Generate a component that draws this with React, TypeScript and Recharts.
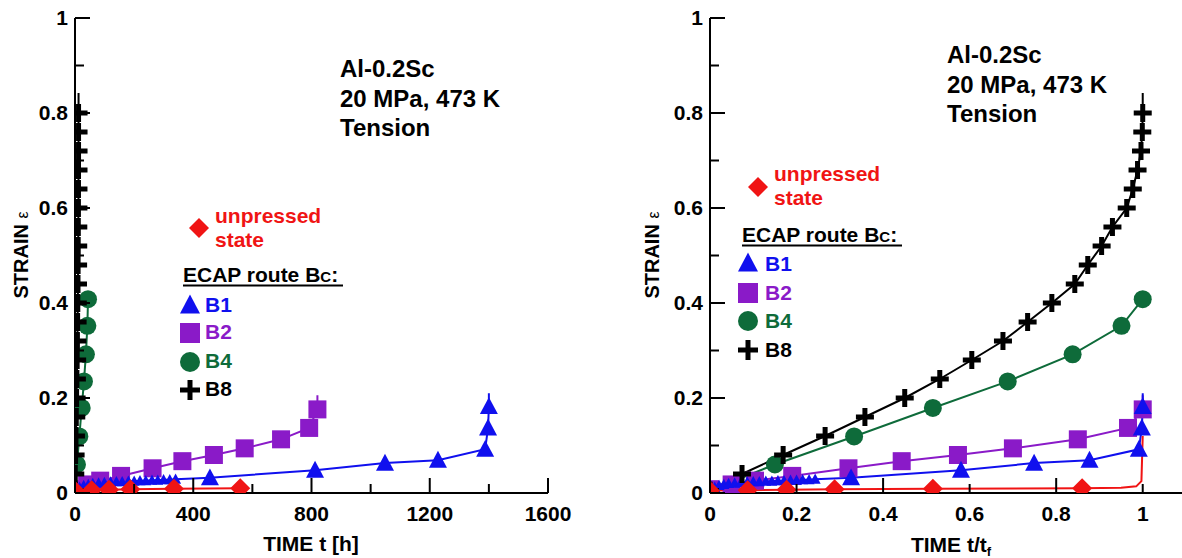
import React from 'react';
import { ComposedChart, Line, XAxis, YAxis } from 'recharts';

const FONT = '"Liberation Sans", Arial, Helvetica, sans-serif';

const C_RED = '#f01414';
const C_BLUE = '#1010ee';
const C_PURPLE = '#8a1ac8';
const C_GREEN = '#0e6b3a';
const C_BLACK = '#000000';

// ---- data: normalized time t/tf and strain, plus time to failure tf [h] ----
const unpressedT = [0, 0.087, 0.177, 0.288, 0.515, 0.86];
const unpressedS = [0.005, 0.006, 0.007, 0.008, 0.009, 0.01];
const unpressedTailT = [0.95, 0.985, 0.997, 1.0];
const unpressedTailS = [0.011, 0.014, 0.025, 0.12];
const unpressedTf = 650;

const b1T = [0, 0.011, 0.021, 0.032, 0.043, 0.057, 0.071, 0.086, 0.1, 0.114, 0.129, 0.143, 0.157, 0.171, 0.186, 0.2, 0.214, 0.229, 0.243, 0.326, 0.58, 0.749, 0.877, 0.991, 0.998, 1.0];
const b1S = [0.005, 0.012, 0.016, 0.018, 0.02, 0.021, 0.022, 0.023, 0.024, 0.024, 0.025, 0.025, 0.026, 0.026, 0.027, 0.027, 0.028, 0.028, 0.029, 0.032, 0.048, 0.063, 0.069, 0.092, 0.137, 0.182];
const b1TailT = [1.0];
const b1TailS = [0.21];
const b1Tf = 1400;

const b2T = [0, 0.05, 0.104, 0.19, 0.32, 0.443, 0.573, 0.7, 0.85, 0.966, 1.0];
const b2S = [0.008, 0.018, 0.026, 0.036, 0.052, 0.067, 0.08, 0.094, 0.113, 0.137, 0.176];
const b2TailT = [1.0];
const b2TailS = [0.206];
const b2Tf = 820;

const b4T = [0, 0.15, 0.333, 0.515, 0.688, 0.838, 0.951, 1.0];
const b4S = [0.005, 0.06, 0.119, 0.179, 0.235, 0.292, 0.352, 0.408];
const b4Tf = 44;

const b8T = [0, 0.074, 0.169, 0.266, 0.358, 0.45, 0.531, 0.605, 0.677, 0.734, 0.79, 0.843, 0.873, 0.905, 0.93, 0.963, 0.977, 0.988, 0.996, 0.999, 1.0];
const b8S = [0.005, 0.04, 0.08, 0.12, 0.16, 0.2, 0.24, 0.28, 0.32, 0.36, 0.4, 0.44, 0.48, 0.52, 0.56, 0.6, 0.64, 0.68, 0.72, 0.76, 0.8];
const b8TailT = [1.0];
const b8TailS = [0.842];
const b8Tf = 12;

// ---- ticks ----
const leftXTicks = [0, 200, 400, 600, 800, 1000, 1200, 1400, 1600];
const leftXMajor = [0, 400, 800, 1200, 1600];
const leftXLabels = [0, 400, 800, 1200, 1600];
const rightXTicks = [0, 0.2, 0.4, 0.6, 0.8, 1.0];
const rightXMajor = [0, 0.4, 0.8];
const rightXLabels = [0, 0.2, 0.4, 0.6, 0.8, 1.0];
const yTicks = [0, 0.1, 0.2, 0.3, 0.4, 0.5, 0.6, 0.7, 0.8, 0.9, 1.0];
const yMajor = [0, 0.2, 0.4, 0.6, 0.8, 1.0];
const yLabels = [0, 0.2, 0.4, 0.6, 0.8, 1.0];

type Pt = { x: number; y: number; m: boolean };
function build(t: number[], s: number[], scale: number, tailT: number[] = [], tailS: number[] = []): Pt[] {
  const pts: Pt[] = t.map((v, i) => ({ x: v * scale, y: s[i], m: true }));
  tailT.forEach((v, i) => pts.push({ x: v * scale, y: tailS[i], m: false }));
  return pts;
}

const has = (arr: number[], v: number) => arr.some((a) => Math.abs(a - v) < 1e-9);
const fmt = (v: number) => (Math.abs(v) < 1e-9 ? '0' : Math.abs(v - 1) < 1e-9 ? '1' : String(Math.round(v * 1000) / 1000));

type Kind = 'tri' | 'sq' | 'circ' | 'dia' | 'plus';
function Marker({ kind, x, y, s, color }: { kind: Kind; x: number; y: number; s: number; color: string }) {
  if (kind === 'tri')
    return <polygon points={`${x},${y - s * 0.52} ${x - s / 2},${y + s * 0.42} ${x + s / 2},${y + s * 0.42}`} fill={color} />;
  if (kind === 'sq') return <rect x={x - s / 2} y={y - s / 2} width={s} height={s} fill={color} />;
  if (kind === 'circ') return <circle cx={x} cy={y} r={s / 2} fill={color} />;
  if (kind === 'dia')
    return <polygon points={`${x},${y - s / 2} ${x + s / 2},${y} ${x},${y + s / 2} ${x - s / 2},${y}`} fill={color} />;
  const th = 5;
  return (
    <g fill={color}>
      <rect x={x - s / 2} y={y - th / 2} width={s} height={th} />
      <rect x={x - th / 2} y={y - s / 2} width={th} height={s} />
    </g>
  );
}

function makeDot(kind: Kind, color: string, size: number, smallCount = 0) {
  return (props: any) => {
    const { cx, cy, payload, index } = props;
    if (!payload || !payload.m || cx == null || cy == null) return <g key={`n${index}`} />;
    const s = index > 0 && index < smallCount ? 11 : size;
    return (
      <g key={`d${index}`}>
        <Marker kind={kind} x={cx} y={cy} s={s} color={color} />
      </g>
    );
  };
}

const MAJ = 15;
const MIN = 9;
const TICK_FONT = 21;

function xTick(major: number[], labels: number[] | null, dir: number) {
  return (props: any) => {
    const { x, y, payload } = props;
    const v = payload.value;
    const len = has(major, v) ? MAJ : MIN;
    return (
      <g>
        <line x1={x} x2={x} y1={y} y2={y + dir * len} stroke="#000" strokeWidth={2} />
        {labels && has(labels, v) ? (
          <text x={x} y={y + 28} textAnchor="middle" fontFamily={FONT} fontWeight="bold" fontSize={TICK_FONT} fill="#000">
            {fmt(v)}
          </text>
        ) : null}
      </g>
    );
  };
}

function yTick(major: number[], labels: number[] | null, dir: number) {
  return (props: any) => {
    const { x, y, payload } = props;
    const v = payload.value;
    const len = has(major, v) ? MAJ : MIN;
    return (
      <g>
        <line x1={x} x2={x + dir * len} y1={y} y2={y} stroke="#000" strokeWidth={2} />
        {labels && has(labels, v) ? (
          <text x={x - 7} y={y + 7} textAnchor="end" fontFamily={FONT} fontWeight="bold" fontSize={TICK_FONT} fill="#000">
            {fmt(v)}
          </text>
        ) : null}
      </g>
    );
  };
}

const AX = { stroke: '#000', strokeWidth: 2 };

function renderLines(left: boolean) {
  const sc = (tf: number) => (left ? tf : 1);
  const red = left
    ? build(unpressedT, unpressedS, sc(unpressedTf))
    : build(unpressedT, unpressedS, 1, unpressedTailT, unpressedTailS);
  const b1 = build(b1T, b1S, sc(b1Tf), b1TailT, b1TailS);
  const b2 = build(b2T, b2S, sc(b2Tf), b2TailT, b2TailS);
  const b4 = build(b4T, b4S, sc(b4Tf));
  const b8 = build(b8T, b8S, sc(b8Tf), b8TailT, b8TailS);
  const common = { type: 'linear' as const, dataKey: 'y', strokeWidth: 2, activeDot: false, isAnimationActive: false, legendType: 'none' as const };
  return [
    <Line key="b4" {...common} data={b4} stroke={C_GREEN} dot={makeDot('circ', C_GREEN, 18)} />,
    <Line key="b2" {...common} data={b2} stroke={C_PURPLE} dot={makeDot('sq', C_PURPLE, 18)} />,
    <Line key="b1" {...common} data={b1} stroke={C_BLUE} dot={makeDot('tri', C_BLUE, 18, 19)} />,
    <Line key="b8" {...common} data={b8} stroke={C_BLACK} dot={makeDot('plus', C_BLACK, 18)} />,
    <Line key="red" {...common} data={red} stroke={C_RED} dot={makeDot('dia', C_RED, 20)} />,
  ];
}

function Panel({ left }: { left: boolean }) {
  const xDomain: [number, number] = left ? [0, 1600] : [0, 1.1];
  const xt = left ? leftXTicks : rightXTicks;
  const xm = left ? leftXMajor : rightXMajor;
  const xl = left ? leftXLabels : rightXLabels;
  return (
    <ComposedChart
      width={left ? 600 : 561}
      height={558}
      margin={{ top: 18, right: left ? 52 : 10, bottom: 0, left: 0 }}
    >
      <XAxis dataKey="x" type="number" domain={xDomain} ticks={xt} interval={0} tickSize={0} tickMargin={0} height={65} axisLine={AX} tickLine={false} tick={xTick(xm, xl, -1)} allowDataOverflow />
      <XAxis xAxisId="top" orientation="top" type="number" domain={xDomain} ticks={xt} interval={0} tickSize={0} tickMargin={0} height={0} axisLine={AX} tickLine={false} tick={xTick(xm, null, 1)} allowDataOverflow />
      <YAxis type="number" domain={[0, 1]} ticks={yTicks} interval={0} tickSize={0} tickMargin={0} width={75} axisLine={AX} tickLine={false} tick={yTick(yMajor, yLabels, 1)} allowDataOverflow />
      <YAxis yAxisId="r" orientation="right" type="number" domain={[0, 1]} ticks={yTicks} interval={0} tickSize={0} tickMargin={0} width={0} axisLine={AX} tickLine={false} tick={yTick(yMajor, null, -1)} allowDataOverflow />
      {renderLines(left)}
    </ComposedChart>
  );
}

function T({ x, y, size = 21, color = '#000', children, anchor = 'start', weight = 'bold' }: any) {
  return (
    <text x={x} y={y} fontFamily={FONT} fontWeight={weight} fontSize={size} fill={color} textAnchor={anchor}>
      {children}
    </text>
  );
}

function Annotations({ info, unp, ecap, leg, strainX, timeLabel }: any) {
  return (
    <g>
      <T x={info.x} y={info.y} size={24}>Al-0.2Sc</T>
      <T x={info.x} y={info.y + 30} size={24}>20 MPa, 473 K</T>
      <T x={info.x} y={info.y + 59} size={24}>Tension</T>

      <Marker kind="dia" x={unp.mx} y={unp.my} s={20} color={C_RED} />
      <T x={unp.tx} y={unp.ty} color={C_RED}>unpressed</T>
      <T x={unp.tx} y={unp.ty + 24} color={C_RED}>state</T>

      <text x={ecap.x} y={ecap.y} fontFamily={FONT} fontWeight="bold" fontSize={21} fill="#000">
        ECAP route B<tspan fontSize={15}>C</tspan>:
      </text>
      <line x1={ecap.x} x2={ecap.x + 160} y1={ecap.y + 3.5} y2={ecap.y + 3.5} stroke="#000" strokeWidth={2} />

      {leg.map((l: any, i: number) => (
        <g key={i}>
          <Marker kind={l.kind} x={l.mx} y={l.my} s={20} color={l.color} />
          <T x={l.tx} y={l.ty} color={l.color}>{l.label}</T>
        </g>
      ))}

      <text
        x={strainX}
        y={255}
        transform={`rotate(-90, ${strainX}, 255)`}
        fontFamily={FONT}
        fontWeight="bold"
        fontSize={20}
        fill="#000"
        textAnchor="middle"
      >
        STRAIN <tspan fontWeight="normal" fontSize={16}>ε</tspan>
      </text>
      {timeLabel}
    </g>
  );
}

export default function App() {
  const legL = [
    { kind: 'tri', mx: 190, my: 305, tx: 205, ty: 312, color: C_BLUE, label: 'B1' },
    { kind: 'sq', mx: 190, my: 333, tx: 205, ty: 339, color: C_PURPLE, label: 'B2' },
    { kind: 'circ', mx: 190, my: 362, tx: 205, ty: 368, color: C_GREEN, label: 'B4' },
    { kind: 'plus', mx: 190, my: 390, tx: 205, ty: 396, color: C_BLACK, label: 'B8' },
  ];
  const legR = [
    { kind: 'tri', mx: 748, my: 263, tx: 765, ty: 271, color: C_BLUE, label: 'B1' },
    { kind: 'sq', mx: 748, my: 293, tx: 765, ty: 300, color: C_PURPLE, label: 'B2' },
    { kind: 'circ', mx: 748, my: 321, tx: 765, ty: 328, color: C_GREEN, label: 'B4' },
    { kind: 'plus', mx: 748, my: 350, tx: 765, ty: 357, color: C_BLACK, label: 'B8' },
  ];
  return (
    <div style={{ position: 'absolute', left: 0, top: 0, width: 1182, height: 558, overflow: 'hidden', background: '#fff' }}>
      <div style={{ position: 'absolute', left: 0, top: 0 }}>
        <Panel left={true} />
      </div>
      <div style={{ position: 'absolute', left: 635, top: 0 }}>
        <Panel left={false} />
      </div>
      <svg width={1182} height={558} style={{ position: 'absolute', left: 0, top: 0, pointerEvents: 'none' }}>
        <Annotations
          info={{ x: 340, y: 77 }}
          unp={{ mx: 199, my: 228, tx: 215, ty: 223 }}
          ecap={{ x: 183, y: 282 }}
          leg={legL}
          strainX={28}
          timeLabel={<T x={311} y={551} anchor="middle">TIME t [h]</T>}
        />
        <Annotations
          info={{ x: 947, y: 63 }}
          unp={{ mx: 758, my: 187, tx: 774, ty: 181 }}
          ecap={{ x: 742, y: 242 }}
          leg={legR}
          strainX={659}
          timeLabel={
            <text x={951} y={552} fontFamily={FONT} fontWeight="bold" fontSize={21} fill="#000" textAnchor="middle">
              TIME t/t<tspan fontSize={13} dy={4}>f</tspan>
            </text>
          }
        />
      </svg>
    </div>
  );
}
